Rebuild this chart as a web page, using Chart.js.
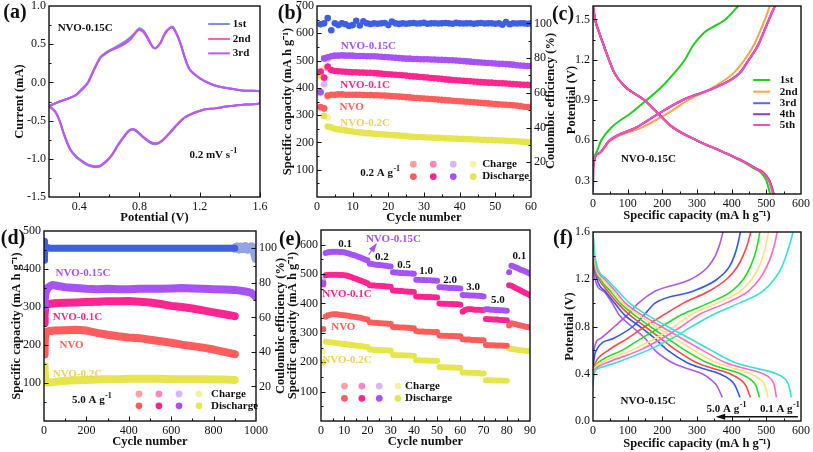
<!DOCTYPE html>
<html>
<head>
<meta charset="utf-8">
<script src="https://cdn.jsdelivr.net/npm/chart.js@4.4.0/dist/chart.umd.min.js"></script>
<style>
  body { margin: 0; background: #fff; }
  #wrap { position: relative; width: 813px; height: 452px; overflow: hidden; background: #fff; }
  #wrap canvas { position: absolute; left: 0; top: 0; }
</style>
</head>
<body>
<div id="wrap">
  <canvas id="pa" width="813" height="452"></canvas>
  <canvas id="pb" width="813" height="452"></canvas>
  <canvas id="pc" width="813" height="452"></canvas>
  <canvas id="pd" width="813" height="452"></canvas>
  <canvas id="pe" width="813" height="452"></canvas>
  <canvas id="pf" width="813" height="452"></canvas>
</div>
<script>
// ---------- (a) CV loop: potentials along the loop, current of each cycle ----------
const aV  = [0.20,0.27,0.33,0.38,0.41,0.44,0.46,0.50,0.54,0.57, 0.60,0.65,0.70,0.74,0.78,0.80,0.83,0.86,0.89,0.91,
             0.94,0.97,1.00,1.02,1.04,1.07,1.10,1.13,1.17,1.22, 1.30,1.40,1.50,1.60,
             1.60,1.50,1.40,1.30,1.22,1.16,1.10,1.05,1.00,0.95, 0.91,0.87,0.83,0.79,0.76,0.73,0.70,0.66,0.62,0.58,
             0.54,0.51,0.48,0.45,0.42,0.38,0.34,0.30,0.27,0.24, 0.20];
const aI1 = [-0.31,-0.25,-0.21,-0.16,-0.10,-0.04,0.01,0.18,0.33,0.38, 0.42,0.47,0.53,0.59,0.67,0.71,0.67,0.57,0.46,0.45,
             0.52,0.64,0.71,0.73,0.67,0.53,0.33,0.18,0.10,0.03, -0.04,-0.08,-0.11,-0.12,
             -0.27,-0.29,-0.31,-0.34,-0.36,-0.40,-0.46,-0.56,-0.67,-0.77, -0.81,-0.79,-0.73,-0.66,-0.62,-0.64,-0.71,-0.82,-0.95,-1.04,
             -1.10,-1.11,-1.10,-1.08,-1.04,-0.98,-0.88,-0.69,-0.50,-0.38, -0.31];
const aI2 = [-0.31,-0.25,-0.21,-0.165,-0.11,-0.05,0.00,0.17,0.32,0.37, 0.41,0.45,0.50,0.56,0.67,0.69,0.65,0.55,0.46,0.45,
             0.52,0.65,0.71,0.72,0.66,0.52,0.33,0.18,0.10,0.03, -0.04,-0.08,-0.11,-0.12,
             -0.27,-0.29,-0.31,-0.34,-0.36,-0.40,-0.46,-0.55,-0.66,-0.76, -0.80,-0.78,-0.72,-0.65,-0.61,-0.63,-0.70,-0.81,-0.94,-1.03,
             -1.09,-1.10,-1.09,-1.07,-1.03,-0.97,-0.87,-0.68,-0.50,-0.38, -0.31];
const aI3 = [-0.31,-0.25,-0.21,-0.165,-0.11,-0.05,0.00,0.17,0.32,0.37, 0.41,0.46,0.51,0.57,0.66,0.69,0.66,0.56,0.46,0.45,
             0.52,0.64,0.71,0.72,0.66,0.52,0.33,0.18,0.10,0.03, -0.04,-0.08,-0.11,-0.12,
             -0.27,-0.29,-0.31,-0.34,-0.36,-0.40,-0.46,-0.55,-0.66,-0.76, -0.80,-0.78,-0.72,-0.65,-0.61,-0.63,-0.70,-0.81,-0.94,-1.03,
             -1.09,-1.10,-1.09,-1.07,-1.03,-0.97,-0.87,-0.68,-0.50,-0.38, -0.31];
const aCycleNames = ['1st', '2nd', '3rd'];

// ---------- (b) cycling at 0.2 A/g, 60 cycles ----------
const bNVO015 = [385,508,512,516,518,518,519,518,518,518,517,517,517,516,516,516,515,514,513,512,
                 511,510,509,508,507,507,506,506,505,505,505,504,504,503,503,502,501,501,500,499,
                 498,497,496,495,494,493,492,491,490,489,488,488,487,486,485,483,482,481,480,480];
const bNVO01  = [460,438,478,465,462,461,460,459,458,457,457,456,456,455,455,454,453,452,451,450,
                 449,448,447,446,445,443,442,441,440,439,438,436,435,434,433,431,430,429,428,427,
                 426,425,424,423,422,421,420,419,419,418,417,417,416,415,414,413,412,411,411,410];
const bNVO    = [330,325,372,375,375,376,376,375,375,375,375,375,374,374,374,373,373,372,372,371,
                 370,369,368,367,366,365,364,363,362,361,360,359,358,357,356,355,354,353,352,351,
                 350,349,348,347,346,345,344,343,342,341,340,339,338,337,336,335,333,331,330,328];
const bNVO02  = [445,297,258,255,250,248,246,244,242,240,238,237,235,234,233,232,231,230,229,228,
                 227,226,225,224,223,222,221,220,220,219,218,218,217,217,216,215,215,214,214,213,
                 213,212,212,211,211,210,210,209,209,208,207,207,206,205,205,204,203,202,201,200];
// charge points that stand out from the discharge band (cycles 1-3)
const bNVO015Ch = [380,413,505];
const bNVO01Ch  = [455,436,472];
const bNVOCh    = [328,323,368];
const bNVO02Ch  = [440,472,292];
const bCE = [99.5,100,103,96,100,99,100,99.5,98.5,99,101.5,98.8,101.2,100,99.6,100,99.8,100,100.2,99,
             101,100,99.7,100,99.8,100,100.2,99.9,100,100.3,99.8,100,100.1,99.9,100,100.2,100,99.8,100.3,100,
             99.9,100,100.1,99.8,100,100.2,99.9,100,100,99.8,100,99.2,100.8,99.5,100,99.9,100.1,100,99.8,100];

// ---------- (c) first five GCD cycles of NVO-0.15C ----------
const cDisV = [1.6,1.5,1.4,1.3,1.2,1.1,1.0,0.9,0.8,0.7,0.6,0.5,0.4,0.3,0.2];
const cDis1 = [0,6,18,32,46,62,92,148,188,228,298,384,458,500,511];
const cDis2 = [0,6,18,32,46,62,92,147,188,230,300,388,464,508,518];
const cDis3 = [0,6,18,32,46,62,92,148,188,228,299,386,463,508,521];
const cDis4 = [0,6,18,32,46,62,92,148,188,228,299,386,463,509,522];
const cDis5 = [0,6,18,32,46,62,92,148,188,228,299,386,462,507,520];
const cChV  = [0.22,0.4,0.5,0.6,0.7,0.8,0.9,1.0,1.1,1.2,1.3,1.4,1.5,1.6];
const cCh1  = [0,1,8,24,55,108,155,199,234,265,287,320,382,419];
const cCh2  = [0,0.5,15,52,145,215,275,350,405,437,462,480,496,510];
const cCh3  = [0,0.5,15,48,128,190,258,358,422,449,474,491,507,524];
const cCh4  = [0,0.5,15,48,128,190,259,359,423,450,475,492,508,525];
const cCh5  = [0,0.5,15,48,128,190,260,360,424,450,475,492,508,525];

// ---------- (d) long cycling at 5.0 A/g ----------
const dCyc     = [1,3,6,10,20,50,100,150,200,250,300,350,400,450,500,550,600,650,700,750,800,850,900];
const dNVO     = [175,205,228,234,236,238,239,240,238,232,227,223,220,218,214,210,206,201,197,193,188,182,176];
const dNVO01   = [258,282,300,305,308,310,311,312,313,314,315,315,316,314,312,308,303,300,296,291,286,281,276];
const dNVO02   = [145,125,108,102,101,103,106,107,108,109,110,110,111,111,111,111,110,110,110,110,109,109,108];
const dCyc015  = [1,3,6,10,20,40,60,100,150,200,250,300,350,400,450,500,550,600,650,700,750,800,850,900,925,950,975,990,1000];
const dNVO015  = [300,318,332,342,352,358,356,352,350,348,347,348,347,347,348,348,348,349,350,349,348,347,346,345,343,341,338,332,326];
const dCECyc   = [1,2,3,5,8,15,30,60,100,200,300,400,500,600,700,800,900];
const dCE      = [93,104,96,101,100,100.5,100,100,100,100,100,100,100,100,100,100,100];
const dCETailCyc = [900,910,920,930,940,950,960,970,980,990,1000];
const dCETail    = [100,100.8,99.5,100.6,99.8,101,99.4,100.5,100.8,99,94];

// ---------- (e) rate capability, 90 cycles ----------
const eRates = ['0.1','0.2','0.5','1.0','2.0','3.0','5.0','0.1'];
const eNVO015 = [470,572,574,575,576,576,576,575,575,574, 572,570,567,565,562,559,556,553,550,547,
                 535,534,533,532,531,530,529,528,527,526, 506,505,505,504,504,503,503,502,502,501,
                 481,481,480,480,479,479,479,478,478,477, 455,455,454,454,453,453,453,452,452,451,
                 429,428,428,427,427,427,426,426,425,424, 380,380,379,379,378,378,377,377,376,375,
                 506,528,526,522,519,515,512,509,505,501];
const eNVO01  = [465,496,497,498,498,498,498,497,497,496, 495,493,490,487,484,481,478,475,472,469,
                 462,461,461,460,460,459,459,458,458,457, 444,443,443,442,442,441,441,440,440,439,
                 424,423,423,423,422,422,422,421,421,420, 400,399,399,399,398,398,398,397,397,396,
                 372,378,380,380,380,379,379,379,378,378, 347,346,346,345,345,345,344,344,343,343,
                 462,460,456,452,448,444,440,436,432,428];
const eNVO    = [312,355,360,362,363,363,363,362,361,360, 359,358,356,355,354,352,351,349,347,345,
                 336,335,334,334,333,333,332,332,331,331, 320,319,319,318,318,318,317,317,316,316,
                 306,305,305,305,304,304,304,303,303,303, 291,290,290,290,289,289,289,288,288,288,
                 278,277,277,277,276,276,276,275,275,275, 259,258,258,258,257,257,257,257,256,256,
                 325,333,331,329,327,325,323,321,320,318];
const eNVO02  = [200,270,269,268,267,266,265,264,263,262, 261,260,259,258,257,256,255,254,253,252,
                 243,243,242,242,242,241,241,241,240,240, 225,225,224,224,224,223,223,223,222,222,
                 207,207,206,206,206,206,205,205,205,205, 184,183,183,183,182,182,182,181,181,181,
                 165,165,164,164,164,163,163,163,162,162, 139,139,139,138,138,138,138,138,137,137,
                 246,245,244,243,242,241,240,239,238,237];
const eFirstCharge = [313, 472, 482, 236]; // NVO, NVO-0.1C, NVO-0.15C, NVO-0.2C at cycle 1

// ---------- (f) GCD of NVO-0.15C at different rates ----------
const fRates = ['0.1','0.2','0.5','1.0','2.0','3.0','5.0'];
const fDisV  = [1.6,1.4,1.2,1.1,1.0,0.9,0.8,0.7,0.6,0.5,0.45,0.4,0.35,0.3,0.2];
const fDis01 = [0,5,40,72,105,155,215,278,340,405,465,528,556,565,572];
const fDis02 = [0,4,34,64,93,140,197,255,315,378,430,490,515,523,529];
const fDis05 = [0,3,28,57,85,130,180,235,290,352,400,455,483,496,505];
const fDis10 = [0,3,22,50,78,118,165,215,265,325,370,425,455,470,480];
const fDis20 = [0,2,17,42,70,105,150,195,240,295,340,395,425,441,454];
const fDis30 = [0,2,12,35,62,90,135,178,215,268,310,365,395,410,424];
const fDis50 = [0,1,6,30,55,75,112,150,178,225,265,315,340,357,373];
const fChV   = [0.3,0.4,0.45,0.5,0.6,0.7,0.8,0.9,1.0,1.1,1.2,1.3,1.4,1.5,1.6];
const fCh01  = [0,3,20,72,159,228,285,346,423,490,523,544,557,568,577];
const fCh02  = [0,2,10,45,135,200,255,305,385,448,480,500,514,524,531];
const fCh05  = [0,1.5,6,30,112,180,235,283,360,425,458,478,491,500,506];
const fCh10  = [0,1,4,18,85,140,198,255,335,400,434,453,466,475,481];
const fCh20  = [0,0.6,2,8,45,100,150,205,262,335,385,415,433,446,455];
const fCh30  = [0,0.4,1,2,10,60,115,148,180,290,358,392,408,418,425];
const fCh50  = [0,0.2,0.4,0.7,2.5,22,62,100,132,180,282,330,353,366,375];

// ---------- colours ----------
const C = {
  nvo: '#ff5c5c', nvo01: '#ff2590', nvo015: '#a752f5', nvo02: '#e6e64c',
  nvoL: '#ffa0a0', nvo01L: '#ff85c4', nvo015L: '#d8b6ff', nvo02L: '#f3f3a6',
  lab02: '#f0cf5a', ce: '#3d5fe8', ceL: '#93a6e2', ink: '#111'
};
const aColors = ['#7593e6', '#ff5fac', '#b05cff'];
const cColors = ['#22cc22', '#ffa444', '#4d6bff', '#9a33cc', '#ff4fae'];
const fColors = ['#35e3d3', '#ff6ac6', '#ffe07a', '#22dd22', '#ff4848', '#3457ee', '#a95af0'];

// ---------- helpers ----------
const W = 813, H = 452;
const SERIF = '"Liberation Serif", "Times New Roman", serif';
const tickFont = {family: SERIF, size: 12};
const titleFont = {family: SERIF, size: 12.5, weight: 'bold', lineHeight: 1.2};
const LH = 15;

const pts = (xs, ys) => xs.map((x, i) => ({x, y: ys[i]}));
const cycles = n => Array.from({length: n}, (_, i) => i + 1);

function axis(pos, min, max, labels, digits, title) {
  return {
    type: 'linear', position: pos, min, max,
    grid: {display: false, drawTicks: false}, border: {display: false},
    afterBuildTicks: sc => { sc.ticks = labels.map(v => ({value: v})); },
    ticks: {autoSkip: false, maxRotation: 0, padding: 3, color: C.ink, font: tickFont,
            callback: v => Number(v).toFixed(digits)},
    title: {display: !!title, text: title || '', font: titleFont, color: C.ink, padding: 0}
  };
}

function curve(data, color, width, extra) {
  return Object.assign({data, showLine: true, borderColor: color, backgroundColor: color,
    borderWidth: width, pointRadius: 0, fill: false}, extra || {});
}
function dots(data, color, r) {
  return {data, showLine: false, pointRadius: r, borderWidth: 0, backgroundColor: color, borderColor: color};
}

function rich(ctx, s, x, y, size, color, align) {
  const [base, sup] = s.split('^');
  const f1 = `bold ${size}px ${SERIF}`, f2 = `bold ${Math.round(size * 0.7)}px ${SERIF}`;
  ctx.textBaseline = 'middle';
  ctx.textAlign = 'left';
  ctx.fillStyle = color;
  ctx.font = f1; const w1 = ctx.measureText(base).width;
  ctx.font = f2; const w2 = sup ? ctx.measureText(sup).width + 0.5 : 0;
  const x0 = align === 'left' ? x : x - (w1 + w2) / 2;
  ctx.font = f1; ctx.fillText(base, x0, y);
  if (sup) { ctx.font = f2; ctx.fillText(sup, x0 + w1 + 0.5, y - size * 0.35); }
}

function decor(cfg) {
  return {
    id: 'decor',
    afterDraw(chart) {
      const ctx = chart.ctx, a = chart.chartArea, s = chart.scales;
      const X = v => s.x.getPixelForValue(v);
      const Y = (v, id) => s[id || 'y'].getPixelForValue(v);
      ctx.save();
      ctx.strokeStyle = C.ink;
      ctx.lineWidth = 1;
      // inward tick marks
      (cfg.ticks || []).forEach(t => {
        const sc = s[t.id];
        [[t.major, 4.5], [t.minor, 2.5]].forEach(([vals, len]) => {
          (vals || []).forEach(v => {
            const p = Math.round(sc.getPixelForValue(v)) + 0.5;
            ctx.beginPath();
            if (t.id === 'x') { ctx.moveTo(p, a.bottom); ctx.lineTo(p, a.bottom - len); }
            else if (t.id === 'y2') { ctx.moveTo(a.right, p); ctx.lineTo(a.right - len, p); }
            else { ctx.moveTo(a.left, p); ctx.lineTo(a.left + len, p); }
            ctx.stroke();
          });
        });
      });
      // frame
      ctx.lineWidth = 1.4;
      ctx.strokeRect(a.left, a.top, a.right - a.left, a.bottom - a.top);
      // legend lines and dots
      (cfg.lines || []).forEach(l => {
        ctx.beginPath(); ctx.strokeStyle = l.c; ctx.lineWidth = 2;
        ctx.moveTo(X(l.x1), Y(l.y)); ctx.lineTo(X(l.x2), Y(l.y)); ctx.stroke();
      });
      (cfg.dots || []).forEach(d => {
        ctx.beginPath(); ctx.fillStyle = d.c;
        ctx.arc(X(d.x), Y(d.y), 3.4, 0, Math.PI * 2); ctx.fill();
      });
      // arrows
      (cfg.arrows || []).forEach(r => {
        const x1 = X(r.x1), y1 = Y(r.y1), x2 = X(r.x2), y2 = Y(r.y2);
        const ang = Math.atan2(y2 - y1, x2 - x1);
        ctx.strokeStyle = r.c; ctx.fillStyle = r.c; ctx.lineWidth = r.w || 1.2;
        ctx.beginPath(); ctx.moveTo(x1, y1); ctx.lineTo(x2, y2); ctx.stroke();
        ctx.beginPath();
        ctx.moveTo(x2 + Math.cos(ang) * 2, y2 + Math.sin(ang) * 2);
        ctx.lineTo(x2 - Math.cos(ang - 0.4) * 8, y2 - Math.sin(ang - 0.4) * 8);
        ctx.lineTo(x2 - Math.cos(ang + 0.4) * 8, y2 - Math.sin(ang + 0.4) * 8);
        ctx.closePath(); ctx.fill();
      });
      // in-plot texts (data coordinates)
      (cfg.texts || []).forEach(t => rich(ctx, t.s, X(t.x), Y(t.y), t.size || 11, t.c || C.ink, t.align));
      // right-hand axis title, read bottom to top
      if (cfg.rightTitle) {
        const r = cfg.rightTitle;
        ctx.save();
        ctx.translate(r.px, r.py);
        ctx.rotate(-Math.PI / 2);
        ctx.font = `bold 12.5px ${SERIF}`; ctx.fillStyle = C.ink;
        ctx.textAlign = 'center'; ctx.textBaseline = 'middle';
        ctx.fillText(r.s, 0, 0);
        ctx.restore();
      }
      // panel letter
      if (cfg.letter) {
        ctx.font = `bold 20px ${SERIF}`; ctx.fillStyle = C.ink;
        ctx.textAlign = 'center'; ctx.textBaseline = 'middle';
        ctx.fillText(cfg.letter.s, cfg.letter.px, cfg.letter.py);
      }
      ctx.restore();
    }
  };
}

function makePanel(id, box, axes, datasets, cfg) {
  const yW = box.l - (box.yTitleX - LH / 2);
  const xH = box.xTitleY + LH / 2 - box.b;
  axes.x.afterFit = sc => { sc.height = xH; sc.paddingLeft = 0; sc.paddingRight = 0; };
  axes.y.afterFit = sc => { sc.width = yW; sc.paddingTop = 0; sc.paddingBottom = 0; };
  let rightW = 0;
  if (axes.y2) {
    rightW = 30;
    axes.y2.afterFit = sc => { sc.width = rightW; sc.paddingTop = 0; sc.paddingBottom = 0; };
  }
  return new Chart(document.getElementById(id), {
    type: 'scatter',
    data: {datasets},
    options: {
      responsive: false, animation: false, events: [], devicePixelRatio: 1,
      layout: {padding: {left: box.l - yW, top: box.t, right: W - box.r - rightW, bottom: H - box.b - xH}},
      scales: axes,
      plugins: {legend: {display: false}, tooltip: {enabled: false}}
    },
    plugins: [decor(cfg)]
  });
}

const CAP = 'Specific capacity (mA h g\u207B\u00B9)';
const CE_TITLE = 'Coulombic efficiency (%)';

// ---------- (a) ----------
makePanel('pa', {l: 49, t: 6, r: 260, b: 197, yTitleX: 20, xTitleY: 218},
  {x: axis('bottom', 0.2, 1.6, [0.4, 0.8, 1.2, 1.6], 1, 'Potential (V)'),
   y: axis('left', -1.5, 1.0, [-1.5, -1.0, -0.5, 0.0, 0.5, 1.0], 1, 'Current (mA)')},
  [curve(pts(aV, aI3), aColors[2], 2, {tension: 0.25}),
   curve(pts(aV, aI2), aColors[1], 2, {tension: 0.25}),
   curve(pts(aV, aI1), aColors[0], 2, {tension: 0.25})],
  {ticks: [{id: 'x', major: [0.4, 0.8, 1.2, 1.6], minor: [0.6, 1.0, 1.4]},
           {id: 'y', major: [-1.0, -0.5, 0.0, 0.5], minor: [-1.25, -0.75, -0.25, 0.25, 0.75]}],
   lines: [{x1: 1.256, x2: 1.40, y: 0.764, c: aColors[0]}, {x1: 1.256, x2: 1.40, y: 0.568, c: aColors[1]},
           {x1: 1.256, x2: 1.40, y: 0.38, c: aColors[2]}],
   texts: [{s: 'NVO-0.15C', x: 0.44, y: 0.71}, {s: '0.2 mV s^-1', x: 1.29, y: -0.95},
           {s: aCycleNames[0], x: 1.42, y: 0.764, align: 'left'}, {s: aCycleNames[1], x: 1.42, y: 0.568, align: 'left'},
           {s: aCycleNames[2], x: 1.42, y: 0.38, align: 'left'}],
   letter: {s: '(a)', px: 15, py: 13}});

// ---------- (b) ----------
const bX = cycles(60);
makePanel('pb', {l: 317, t: 6, r: 531, b: 197, yTitleX: 288, xTitleY: 218},
  {x: axis('bottom', 0, 60, [0, 10, 20, 30, 40, 50, 60], 0, 'Cycle number'),
   y: axis('left', 0, 700, [100, 200, 300, 400, 500, 600, 700], 0, CAP),
   y2: axis('right', 0, 110, [20, 40, 60, 80, 100], 0, '')},
  [Object.assign(dots(pts(bX, bCE), C.ce, 3.3), {yAxisID: 'y2'}),
   dots(pts(bX, bNVO015), C.nvo015, 3.3), dots(pts(bX, bNVO01), C.nvo01, 3.3),
   dots(pts(bX, bNVO), C.nvo, 3.3), dots(pts(bX, bNVO02), C.nvo02, 3.3),
   dots(pts([1, 2, 3], bNVO015Ch), C.nvo015L, 3.3), dots(pts([1, 2, 3], bNVO01Ch), C.nvo01L, 3.3),
   dots(pts([1, 2, 3], bNVOCh), C.nvoL, 3.3), dots(pts([1, 2, 3], bNVO02Ch), C.nvo02L, 3.3)],
  {ticks: [{id: 'x', major: [10, 20, 30, 40, 50], minor: [5, 15, 25, 35, 45, 55]},
           {id: 'y', major: [100, 200, 300, 400, 500, 600], minor: [50, 150, 250, 350, 450, 550, 650]},
           {id: 'y2', major: [20, 40, 60, 80, 100], minor: [10, 30, 50, 70, 90]}],
   dots: [{x: 27, y: 120, c: C.nvoL}, {x: 32.6, y: 120, c: C.nvo01L}, {x: 38.2, y: 120, c: C.nvo015L}, {x: 43.8, y: 120, c: C.nvo02L},
          {x: 27, y: 75, c: C.nvo}, {x: 32.6, y: 75, c: C.nvo01}, {x: 38.2, y: 75, c: C.nvo015}, {x: 43.8, y: 75, c: C.nvo02}],
   texts: [{s: 'NVO-0.15C', x: 14.4, y: 551, c: C.nvo015}, {s: 'NVO-0.1C', x: 13.5, y: 410, c: C.nvo01},
           {s: 'NVO', x: 9.7, y: 329, c: C.nvo}, {s: 'NVO-0.2C', x: 13.5, y: 270, c: C.lab02},
           {s: '0.2 A g^-1', x: 17.7, y: 87}, {s: 'Charge', x: 46.3, y: 120, align: 'left'},
           {s: 'Discharge', x: 46.3, y: 75, align: 'left'}],
   rightTitle: {s: CE_TITLE, px: 551, py: 101},
   letter: {s: '(b)', px: 290, py: 14}});

// ---------- (c) ----------
const cMono = {cubicInterpolationMode: 'monotone'};
makePanel('pc', {l: 593, t: 6, r: 801, b: 194, yTitleX: 572, xTitleY: 216},
  {x: axis('bottom', 0, 600, [0, 100, 200, 300, 400, 500, 600], 0, CAP),
   y: axis('left', 0.2, 1.6, [0.3, 0.6, 0.9, 1.2, 1.5], 1, 'Potential (V)')},
  [curve(pts(cDis5, cDisV), cColors[4], 2, cMono), curve(pts(cCh5, cChV), cColors[4], 2, cMono),
   curve(pts(cDis4, cDisV), cColors[3], 2, cMono), curve(pts(cCh4, cChV), cColors[3], 2, cMono),
   curve(pts(cDis3, cDisV), cColors[2], 2, cMono), curve(pts(cCh3, cChV), cColors[2], 2, cMono),
   curve(pts(cDis2, cDisV), cColors[1], 2, cMono), curve(pts(cCh2, cChV), cColors[1], 2, cMono),
   curve(pts(cDis1, cDisV), cColors[0], 2, cMono), curve(pts(cCh1, cChV), cColors[0], 2, cMono)],
  {ticks: [{id: 'x', major: [100, 200, 300, 400, 500], minor: [50, 150, 250, 350, 450, 550]},
           {id: 'y', major: [0.3, 0.6, 0.9, 1.2, 1.5], minor: [0.45, 0.75, 1.05, 1.35]}],
   lines: [{x1: 462, x2: 511, y: 1.049, c: cColors[0]}, {x1: 462, x2: 511, y: 0.962, c: cColors[1]},
           {x1: 462, x2: 511, y: 0.876, c: cColors[2]}, {x1: 462, x2: 511, y: 0.794, c: cColors[3]},
           {x1: 462, x2: 511, y: 0.714, c: cColors[4]}],
   texts: [{s: 'NVO-0.15C', x: 160, y: 0.46},
           {s: '1st', x: 539, y: 1.049, align: 'left'}, {s: '2nd', x: 539, y: 0.962, align: 'left'},
           {s: '3rd', x: 539, y: 0.876, align: 'left'}, {s: '4th', x: 539, y: 0.794, align: 'left'},
           {s: '5th', x: 539, y: 0.714, align: 'left'}],
   letter: {s: '(c)', px: 563, py: 15}});

// ---------- (d) ----------
const band = {borderCapStyle: 'round', borderJoinStyle: 'round'};
makePanel('pd', {l: 44, t: 231, r: 256, b: 421, yTitleX: 17, xTitleY: 442},
  {x: axis('bottom', 0, 1000, [0, 200, 400, 600, 800, 1000], 0, 'Cycle number'),
   y: axis('left', 0, 500, [100, 200, 300, 400, 500], 0, CAP),
   y2: axis('right', 0, 110, [20, 40, 60, 80, 100], 0, '')},
  [curve(pts(dCECyc, dCE), C.ce, 7, Object.assign({yAxisID: 'y2'}, band)),
   curve(pts(dCETailCyc, dCETail), C.ceL, 9, Object.assign({yAxisID: 'y2'}, band)),
   curve(pts(dCyc015, dNVO015), C.nvo015, 8, band),
   curve(pts(dCyc, dNVO01), C.nvo01, 8, band),
   curve(pts(dCyc, dNVO), C.nvo, 8, band),
   curve(pts(dCyc, dNVO02), C.nvo02, 8, band)],
  {ticks: [{id: 'x', major: [200, 400, 600, 800], minor: [100, 300, 500, 700, 900]},
           {id: 'y', major: [100, 200, 300, 400], minor: [50, 150, 250, 350, 450]},
           {id: 'y2', major: [20, 40, 60, 80, 100], minor: [10, 30, 50, 70, 90]}],
   dots: [{x: 448, y: 71, c: C.nvoL}, {x: 542, y: 71, c: C.nvo01L}, {x: 637, y: 71, c: C.nvo015L}, {x: 731, y: 71, c: C.nvo02L},
          {x: 448, y: 40, c: C.nvo}, {x: 542, y: 40, c: C.nvo01}, {x: 637, y: 40, c: C.nvo015}, {x: 731, y: 40, c: C.nvo02}],
   texts: [{s: 'NVO-0.15C', x: 184, y: 388, c: C.nvo015}, {s: 'NVO-0.1C', x: 158, y: 273, c: C.nvo01},
           {s: 'NVO', x: 130, y: 200, c: C.nvo}, {s: 'NVO-0.2C', x: 158, y: 122, c: C.lab02},
           {s: '5.0 A g^-1', x: 226, y: 56}, {s: 'Charge', x: 788, y: 71, align: 'left'},
           {s: 'Discharge', x: 788, y: 40, align: 'left'}],
   rightTitle: {s: CE_TITLE, px: 281, py: 326},
   letter: {s: '(d)', px: 13, py: 239}});

// ---------- (e) ----------
const eX = cycles(90);
makePanel('pe', {l: 321, t: 230, r: 530, b: 421, yTitleX: 293, xTitleY: 442},
  {x: axis('bottom', 0, 90, [0, 10, 20, 30, 40, 50, 60, 70, 80, 90], 0, 'Cycle number'),
   y: axis('left', 0, 650, [100, 200, 300, 400, 500, 600], 0, CAP)},
  [dots(pts(eX, eNVO015), C.nvo015, 3), dots(pts(eX, eNVO01), C.nvo01, 3),
   dots(pts(eX, eNVO), C.nvo, 3), dots(pts(eX, eNVO02), C.nvo02, 3),
   dots(pts([1], [eFirstCharge[0]]), C.nvoL, 3), dots(pts([1], [eFirstCharge[1]]), C.nvo01L, 3),
   dots(pts([1], [eFirstCharge[2]]), C.nvo015L, 3), dots(pts([1], [eFirstCharge[3]]), C.nvo02L, 3)],
  {ticks: [{id: 'x', major: [10, 20, 30, 40, 50, 60, 70, 80], minor: [5, 15, 25, 35, 45, 55, 65, 75, 85]},
           {id: 'y', major: [100, 200, 300, 400, 500, 600], minor: [50, 150, 250, 350, 450, 550]}],
   dots: [{x: 10.1, y: 119, c: C.nvoL}, {x: 17.6, y: 119, c: C.nvo01L}, {x: 25.1, y: 119, c: C.nvo015L}, {x: 33.1, y: 119, c: C.nvo02L},
          {x: 10.1, y: 77, c: C.nvo}, {x: 17.6, y: 77, c: C.nvo01}, {x: 25.1, y: 77, c: C.nvo015}, {x: 33.1, y: 77, c: C.nvo02}],
   arrows: [{x1: 20.5, y1: 566, x2: 23.6, y2: 600, c: C.nvo015}],
   texts: [{s: 'NVO-0.15C', x: 31.2, y: 618, c: C.nvo015}, {s: 'NVO-0.1C', x: 11.2, y: 432, c: C.nvo01},
           {s: 'NVO', x: 9.6, y: 318, c: C.nvo}, {s: 'NVO-0.2C', x: 11.2, y: 207, c: C.lab02},
           {s: eRates[0], x: 10.4, y: 601}, {s: eRates[1], x: 26.2, y: 557}, {s: eRates[2], x: 35.8, y: 531},
           {s: eRates[3], x: 45.3, y: 510}, {s: eRates[4], x: 55.6, y: 478}, {s: eRates[5], x: 65.5, y: 454},
           {s: eRates[6], x: 76.2, y: 410}, {s: eRates[7], x: 85.4, y: 561},
           {s: 'Charge', x: 36.2, y: 119, align: 'left'}, {s: 'Discharge', x: 36.2, y: 77, align: 'left'}],
   letter: {s: '(e)', px: 290, py: 240}});

// ---------- (f) ----------
const fDis = [fDis01, fDis02, fDis05, fDis10, fDis20, fDis30, fDis50];
const fCh  = [fCh01, fCh02, fCh05, fCh10, fCh20, fCh30, fCh50];
const fSets = [];
fRates.forEach((r, i) => {
  fSets.push(curve(pts(fDis[i], fDisV), fColors[i], 1.6, cMono));
  fSets.push(curve(pts(fCh[i], fChV), fColors[i], 1.6, cMono));
});
makePanel('pf', {l: 593, t: 232, r: 801, b: 421, yTitleX: 570, xTitleY: 444},
  {x: axis('bottom', 0, 600, [0, 100, 200, 300, 400, 500, 600], 0, CAP),
   y: axis('left', 0, 1.6, [0.0, 0.4, 0.8, 1.2, 1.6], 1, 'Potential (V)')},
  fSets,
  {ticks: [{id: 'x', major: [100, 200, 300, 400, 500], minor: [50, 150, 250, 350, 450, 550]},
           {id: 'y', major: [0.4, 0.8, 1.2], minor: [0.2, 0.6, 1.0, 1.4]}],
   arrows: [{x1: 591, y1: 0.036, x2: 360, y2: 0.036, c: C.ink, w: 1.6}],
   texts: [{s: 'NVO-0.15C', x: 159, y: 0.17}, {s: fRates[6] + ' A g^-1', x: 385, y: 0.104},
           {s: fRates[0] + ' A g^-1', x: 539, y: 0.104}],
   letter: {s: '(f)', px: 563, py: 239}});
</script>
</body>
</html>
